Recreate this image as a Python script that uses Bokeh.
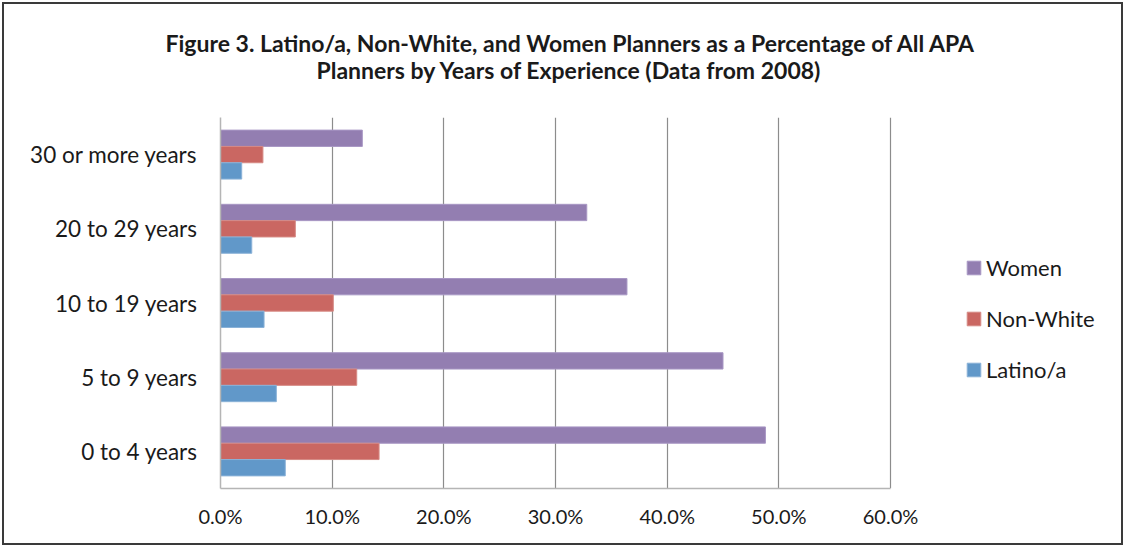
from bokeh.plotting import figure
from bokeh.models import (FactorRange, Range1d, PrintfTickFormatter, Legend, LegendItem,
                          FixedTicker, Title, ColumnDataSource)
from bokeh.transform import dodge
from bokeh.embed import file_html
from bokeh.resources import INLINE

categories = ["0 to 4 years", "5 to 9 years", "10 to 19 years", "20 to 29 years", "30 or more years"]
women = [48.8, 45.0, 36.4, 32.8, 12.7]
non_white = [14.2, 12.2, 10.1, 6.7, 3.8]
latino = [5.8, 5.0, 3.9, 2.8, 1.9]
x_ticks = [0, 10, 20, 30, 40, 50, 60]
title_lines = ["Figure 3. Latino/a, Non-White, and Women Planners as a Percentage of All APA",
               "Planners by Years of Experience (Data from 2008)"]

FONT = "Lato"
TXT = "#1a1a1a"
src = ColumnDataSource(dict(cat=categories, women=women, non_white=non_white, latino=latino))

# page offset of the figure (css margin) and frame geometry
OFF = 4
W, H = 1117, 539
FRAME_L, FRAME_R, FRAME_T, FRAME_B = 220, 1110, 117, 488
AXIS_PX_60 = 890  # pixel where 60% lies
x_max = 60 * (FRAME_R - FRAME_L) / (AXIS_PX_60 - FRAME_L)

p = figure(width=W, height=H, output_backend="svg", toolbar_location=None,
           y_range=FactorRange(factors=categories), x_range=Range1d(0, x_max),
           min_border_left=FRAME_L - OFF, min_border_right=W + OFF - FRAME_R,
           min_border_top=FRAME_T - OFF, min_border_bottom=H + OFF - FRAME_B)

p.title.text = title_lines[0]
p.title.align = "left"
p.title.text_font = FONT
p.title.text_font_size = "23px"
p.title.text_font_style = "bold"
p.title.text_color = TXT
p.title.offset = -55
p.title.standoff = -6
# empty spacer line between the title and the plot area (closest to the frame)
p.add_layout(Title(text=" ", align="left", text_font=FONT, text_font_size="23px",
                   standoff=4), "above")
p.add_layout(Title(text=title_lines[1], align="left", text_font=FONT, text_font_size="23px",
                   text_font_style="bold", text_color=TXT, offset=96, standoff=0), "above")

bh = 0.22
r_w = p.hbar(y=dodge("cat", bh, range=p.y_range), right="women", left=0, height=bh, source=src,
             fill_color="#937EB1", line_color="#a897c4", line_width=1)
r_n = p.hbar(y=dodge("cat", 0, range=p.y_range), right="non_white", left=0, height=bh, source=src,
             fill_color="#CA6762", line_color="#d68a85", line_width=1)
r_l = p.hbar(y=dodge("cat", -bh, range=p.y_range), right="latino", left=0, height=bh, source=src,
             fill_color="#6198C9", line_color="#8ab2d8", line_width=1)

p.xaxis.ticker = FixedTicker(ticks=x_ticks)
p.xaxis.formatter = PrintfTickFormatter(format="%.1f%%")
p.xaxis.bounds = (0, 60)
p.xgrid.ticker = FixedTicker(ticks=x_ticks)
p.xgrid.grid_line_color = "#8c8c8c"
p.xgrid.grid_line_width = 1.2
p.ygrid.grid_line_color = None
p.outline_line_color = None

for ax in (p.xaxis, p.yaxis):
    ax.axis_line_color = "#b5b5b5"
    ax.axis_line_width = 1.5
    ax.major_tick_line_color = None
    ax.minor_tick_line_color = None
    ax.major_tick_out = 0
    ax.major_tick_in = 0
    ax.major_label_text_font = FONT
    ax.major_label_text_color = TXT
p.xaxis.major_label_text_font_size = "20px"
p.yaxis.major_label_text_font_size = "22.5px"
p.xaxis.major_label_standoff = 15
p.yaxis.major_label_standoff = 23

legend = Legend(items=[LegendItem(label="Women", renderers=[r_w]),
                       LegendItem(label="Non-White", renderers=[r_n]),
                       LegendItem(label="Latino/a", renderers=[r_l])],
                location=(965 - FRAME_L, 105), padding=0, margin=0, border_line_color=None,
                background_fill_alpha=0, glyph_width=17, glyph_height=17, label_standoff=4,
                label_height=24, spacing=24, label_text_font=FONT, label_text_font_size="22px",
                label_text_color=TXT)
p.add_layout(legend, "center")

p.styles = {"margin": f"{OFF}px 0 0 {OFF}px", "outline": "2px solid #3a3a3a"}

open("out.html", "w").write(file_html(p, INLINE))
